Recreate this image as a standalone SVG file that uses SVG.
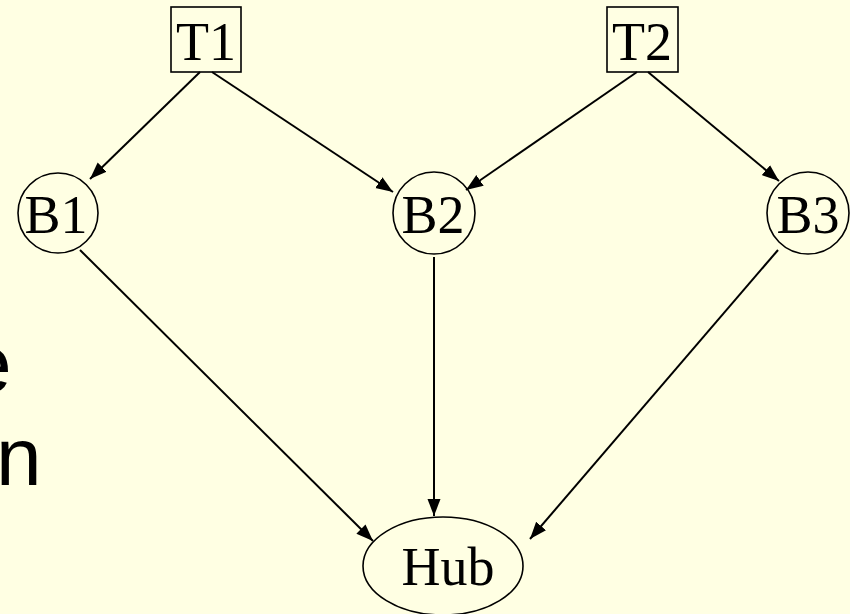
<svg xmlns="http://www.w3.org/2000/svg" width="850" height="614" viewBox="0 0 850 614">
<defs>
<style>
.shape{fill:none;stroke:#000;stroke-width:1.6}
.lbl{font-family:"Liberation Serif","Times New Roman",serif;font-size:54px;fill:#000;text-anchor:middle}
.big{font-family:"Liberation Sans",Arial,sans-serif;font-size:82px;fill:#000}
.edge{stroke:#000;stroke-width:2;fill:none;marker-end:url(#ah)}
</style>
<marker id="ah" markerUnits="userSpaceOnUse" markerWidth="18" markerHeight="14" refX="17" refY="6.5" orient="auto">
<path d="M0,0 L17,6.5 L0,13 z" fill="#000"/>
</marker>
</defs>
<rect width="850" height="614" fill="#FFFFE3"/>
<text class="big" x="-34" y="392">e</text>
<text class="big" x="-4" y="485">n</text>
<g id="connectors">
<line class="edge" x1="200" y1="72" x2="90" y2="179"/>
<line class="edge" x1="212" y1="72" x2="393" y2="192"/>
<line class="edge" x1="637" y1="72" x2="466" y2="190"/>
<line class="edge" x1="648" y1="72" x2="779" y2="181"/>
<line class="edge" x1="80" y1="250" x2="373" y2="541"/>
<line class="edge" x1="434" y1="257" x2="434" y2="516"/>
<line class="edge" x1="778" y1="250" x2="530" y2="539"/>
</g>
<g id="T1"><rect class="shape" x="171" y="7" width="70" height="65"/><text class="lbl" x="206" y="60">T1</text></g>
<g id="T2"><rect class="shape" x="607" y="7" width="71" height="65"/><text class="lbl" x="642" y="60">T2</text></g>
<g id="B1"><circle class="shape" cx="58" cy="213" r="40"/><text class="lbl" x="56" y="233">B1</text></g>
<g id="B2"><circle class="shape" cx="434" cy="213" r="41"/><text class="lbl" x="433" y="233">B2</text></g>
<g id="B3"><circle class="shape" cx="808" cy="213" r="41"/><text class="lbl" x="808" y="233">B3</text></g>
<g id="Hub"><ellipse class="shape" cx="443" cy="566" rx="80" ry="49"/><text class="lbl" x="448" y="585">Hub</text></g>
</svg>
